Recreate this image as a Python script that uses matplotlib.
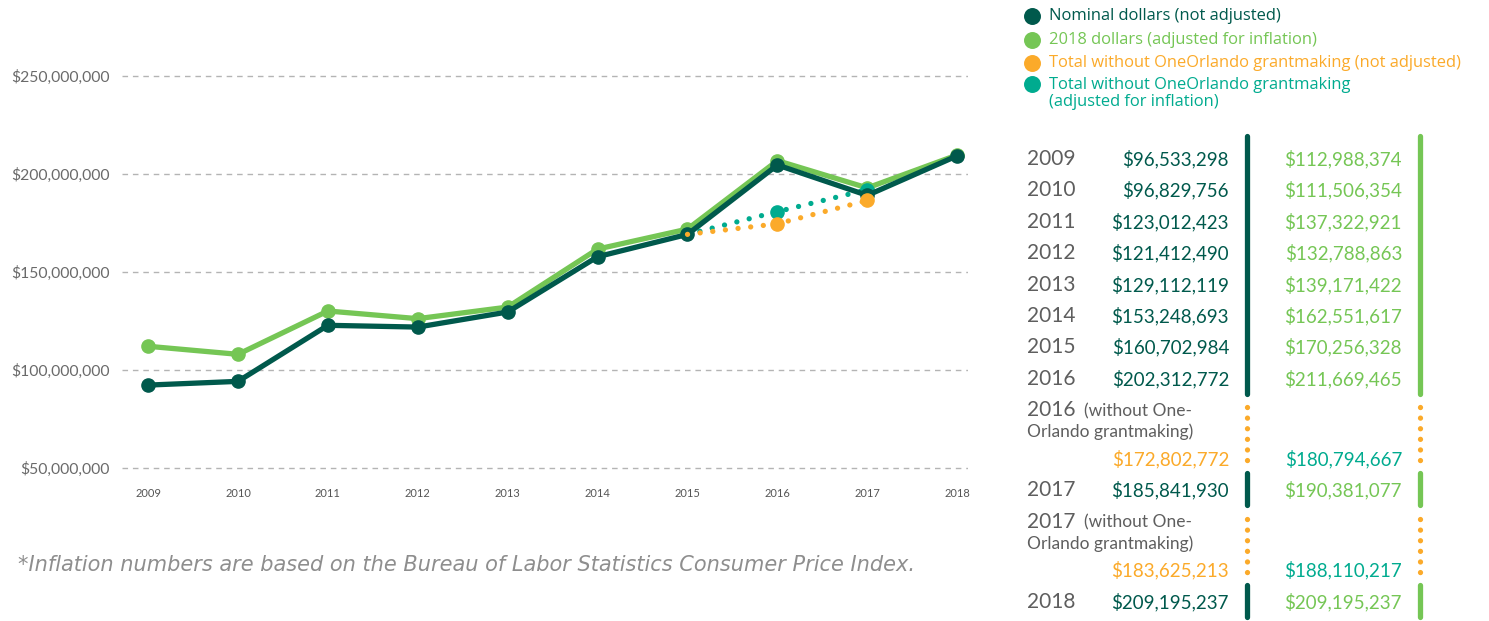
import matplotlib
matplotlib.use("Agg")
import matplotlib.pyplot as plt
from matplotlib.ticker import FuncFormatter

# ----- chart values (millions of dollars) -----
years = list(range(2009, 2019))
nominal = [92.3, 94.2, 122.8, 121.9, 129.6, 157.8, 169.2, 204.6, 189.1, 209.3]
adjusted = [112.1, 108.0, 130.1, 126.2, 132.1, 161.7, 171.9, 206.8, 192.9, 209.7]
wo_years = [2015, 2016, 2017]
wo_nominal = [169.2, 174.6, 186.5]
wo_adjusted = [169.2, 180.8, 192.0]
y_ticks = [50, 100, 150, 200, 250]

# ----- table values -----
tbl_labels = ["2009", "2010", "2011", "2012", "2013", "2014", "2015", "2016",
              "2016", "2017", "2017", "2018"]
tbl_without = [False] * 8 + [True, False, True, False]
tbl_nominal = [96533298, 96829756, 123012423, 121412490, 129112119, 153248693,
               160702984, 202312772, 172802772, 185841930, 183625213, 209195237]
tbl_adjusted = [112988374, 111506354, 137322921, 132788863, 139171422, 162551617,
                170256328, 211669465, 180794667, 190381077, 188110217, 209195237]

legend_labels = ["Nominal dollars (not adjusted)",
                 "2018 dollars (adjusted for inflation)",
                 "Total without OneOrlando grantmaking (not adjusted)",
                 "Total without OneOrlando grantmaking\n(adjusted for inflation)"]

DARK = "#00594c"
LIGHT = "#75c655"
ORANGE = "#fbaa2a"
TEAL = "#00ab8f"
GRAY = "#5e5e5e"

plt.rcParams["font.family"] = ["Lato", "DejaVu Sans"]

W, H = 1489, 621
fig = plt.figure(figsize=(W / 100, H / 100), dpi=100)

# ----- line chart -----
ax = fig.add_axes([122 / W, 1 - 477.8 / H, (968 - 122) / W, (477.8 - 56.4) / H])
ax.set_xlim(2008.71, 2018.12)
ax.set_ylim(45, 260)

ax.plot(years, adjusted, color=LIGHT, lw=3.8, marker="o", ms=9.5, zorder=3)
ax.plot(wo_years, wo_adjusted, color=TEAL, lw=3.8, ls=(0, (0.01, 2.4)),
        dash_capstyle="round", marker="o", ms=9.5, markevery=[1, 2], zorder=4)
ax.plot(years, nominal, color=DARK, lw=3.8, marker="o", ms=9.5, zorder=5)
ax.plot(wo_years, wo_nominal, color=ORANGE, lw=3.8, ls=(0, (0.01, 2.4)),
        dash_capstyle="round", marker="o", ms=9.5, markevery=[1, 2], zorder=6)

ax.set_yticks(y_ticks)
ax.yaxis.set_major_formatter(FuncFormatter(lambda v, p: f"${v * 1e6:,.0f}"))
ax.set_xticks(years)
ax.grid(axis="y", color="#b4b4b4", ls=(0, (4, 3.5)), lw=1)
ax.set_axisbelow(True)
for s in ax.spines.values():
    s.set_visible(False)
ax.tick_params(axis="y", length=0, pad=9, labelsize=11.3, labelcolor="#6a6a6a")
ax.tick_params(axis="x", length=0, pad=7, labelsize=8, labelcolor="#555555")

# ----- overlay in pixel coordinates for legend, table and note -----
ov = fig.add_axes([0, 0, 1, 1])
ov.set_xlim(0, W)
ov.set_ylim(H, 0)
ov.axis("off")
ov.patch.set_visible(False)

leg_colors = [DARK, LIGHT, ORANGE, TEAL]
leg_y = [16, 40, 63, 84]
for lbl, c, y in zip(legend_labels, leg_colors, leg_y):
    ov.scatter([1032], [y], s=125, color=c, zorder=3)
    ty = y + 9.5 if "\n" in lbl else y
    ov.text(1049, ty, lbl, color=c, fontsize=11.9, va="center", ha="left",
            linespacing=1.1, family=["Open Sans", "DejaVu Sans"])

# table rows
x_year, x_nom, x_adj = 1027, 1229, 1402
x_bar1, x_bar2 = 1247, 1420
y = 159
segments = []
for lbl, wo, nv, av in zip(tbl_labels, tbl_without, tbl_nominal, tbl_adjusted):
    if not wo:
        ov.text(x_year, y, lbl, fontsize=15, color=GRAY, va="center", ha="left")
        ov.text(x_nom, y, f"${nv:,}", fontsize=13.5, color=DARK, va="center", ha="right")
        ov.text(x_adj, y, f"${av:,}", fontsize=13.5, color=LIGHT, va="center", ha="right")
        segments.append(("solid", y - 17, y + 15))
        y += 31.4
    else:
        ov.text(x_year, y, lbl, fontsize=15, color=GRAY, va="center", ha="left")
        ov.text(x_year + 57, y + 1, "(without One-", fontsize=12.5, color=GRAY,
                va="center", ha="left")
        ov.text(x_year, y + 22, "Orlando grantmaking)", fontsize=12.5, color=GRAY,
                va="center", ha="left")
        ov.text(x_nom, y + 48.5, f"${nv:,}", fontsize=13.5, color=ORANGE,
                va="center", ha="right")
        ov.text(x_adj, y + 48.5, f"${av:,}", fontsize=13.5, color=TEAL,
                va="center", ha="right")
        segments.append(("dotted", y - 3, y + 58))
        y += 80

# merge consecutive solid segments, extend the first one upward
merged = []
for kind, a, b in segments:
    if merged and merged[-1][0] == kind == "solid":
        merged[-1][2] = b
    else:
        merged.append([kind, a, b])
merged[0][1] = 136
for kind, a, b in merged:
    for xb, c in ((x_bar1, DARK), (x_bar2, LIGHT)):
        if kind == "solid":
            ov.plot([xb, xb], [a, b], color=c, lw=3.8, solid_capstyle="round")
        else:
            ov.plot([xb, xb], [a, b], color=ORANGE, lw=3.8, ls=(0, (0.01, 2.0)),
                    dash_capstyle="round")

ov.text(18, 565, "*Inflation numbers are based on the Bureau of Labor Statistics "
        "Consumer Price Index.", fontsize=15, style="italic", color="#8e8e8e",
        va="center", ha="left", family=["DejaVu Sans"])

fig.savefig("out.png", dpi=100)
